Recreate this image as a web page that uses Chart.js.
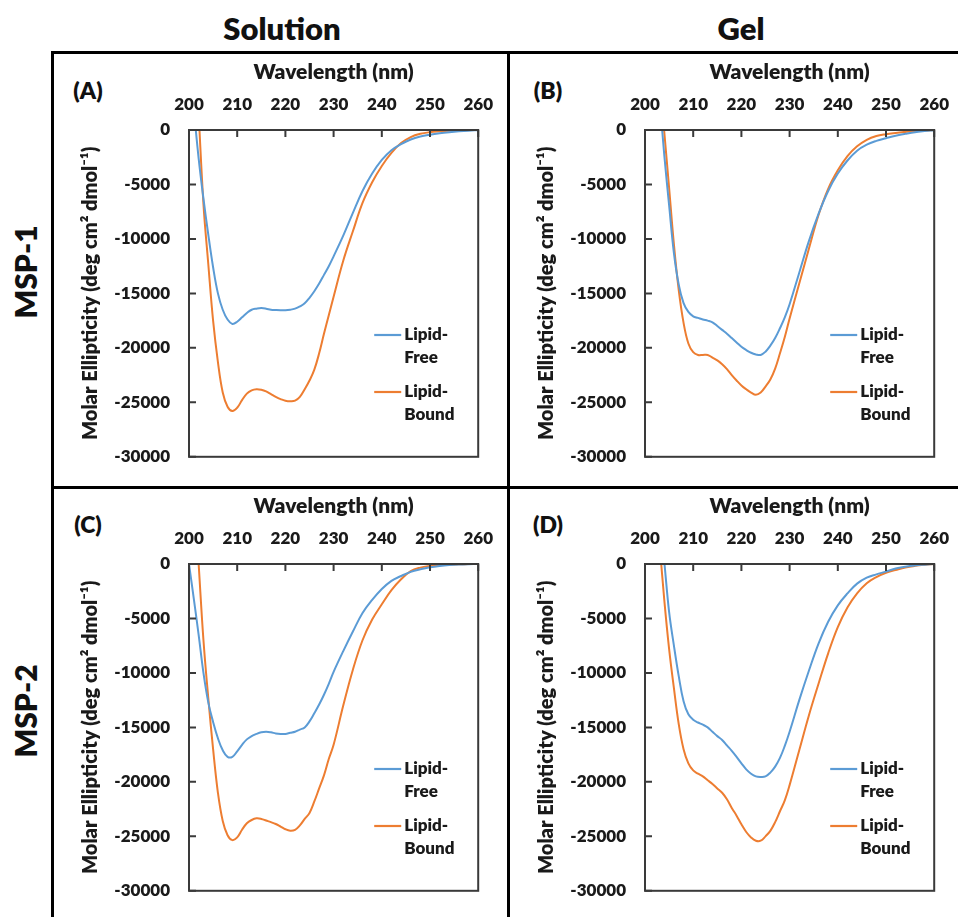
<!DOCTYPE html>
<html>
<head>
<meta charset="utf-8">
<script src="https://cdn.jsdelivr.net/npm/chart.js@4.4.1/dist/chart.umd.min.js"></script>
<style>
  body { margin: 0; background: #fff; font-family: Lato, sans-serif; }
  #page { position: relative; width: 958px; height: 917px; overflow: hidden; }
  .hline { position: absolute; left: 51px; width: 1000px; height: 3px; background: #000; }
  .vline { position: absolute; top: 51px; width: 3px; height: 1000px; background: #000; }
  .head { position: absolute; font-weight: 800; font-size: 31px; color: #111; transform: translate(-50%, -50%); white-space: nowrap; }
  .row { position: absolute; font-weight: 800; font-size: 30px; color: #111; transform: translate(-50%, -50%) rotate(-90deg); white-space: nowrap; }
  .tag { position: absolute; font-weight: 800; font-size: 23px; color: #111; transform: translate(-50%, -50%); }
  canvas { position: absolute; }
</style>
</head>
<body>
<div id="page">
  <div class="hline" style="top:51px"></div>
  <div class="hline" style="top:486px"></div>
  <div class="vline" style="left:51px"></div>
  <div class="vline" style="left:507px"></div>

  <div class="head" style="left:282px; top:28px">Solution</div>
  <div class="head" style="left:741px; top:28px">Gel</div>
  <div class="row" style="left:25px; top:272px">MSP-1</div>
  <div class="row" style="left:25px; top:711px">MSP-2</div>

  <div class="tag" style="left:88px; top:90px">(A)</div>
  <div class="tag" style="left:548px; top:90px">(B)</div>
  <div class="tag" style="left:88px; top:524px">(C)</div>
  <div class="tag" style="left:548px; top:524px">(D)</div>

  <canvas id="chartA" width="454" height="432" style="left:54px; top:54px"></canvas>
  <canvas id="chartB" width="454" height="432" style="left:510px; top:54px"></canvas>
  <canvas id="chartC" width="454" height="432" style="left:54px; top:488px"></canvas>
  <canvas id="chartD" width="454" height="432" style="left:510px; top:488px"></canvas>
</div>

<script>
// wavelengths in nm (1 nm steps to 230, then 2 nm)
const wavelengths = [200, 201, 202, 203, 204, 205, 206, 207, 208, 209, 210, 211, 212, 213, 214, 215,
  216, 217, 218, 219, 220, 221, 222, 223, 224, 225, 226, 227, 228, 229, 230,
  232, 234, 236, 238, 240, 242, 244, 246, 248, 250, 252, 254, 256, 258, 260];

const xTicks = [200, 210, 220, 230, 240, 250, 260];
const yTicks = [0, -5000, -10000, -15000, -20000, -25000, -30000];

// (A) MSP-1 solution
const solution1Free = [null, 1900, -2600, -6300, -9600, -12600, -15000, -16500, -17400, -17800, -17600, -17200,
  -16800, -16500, -16400, -16350, -16400, -16500, -16530, -16550, -16550, -16500, -16400, -16200, -15900,
  -15400, -14800, -14100, -13300, -12500, -11600,
  -9700, -7600, -5600, -4000, -2750, -1850, -1300, -870, -600, -430, -300, -200, -120, -60, -20];
const solution1Bound = [null, null, 1500, -6800, -12300, -17500, -21300, -24100, -25400, -25800, -25500, -24800,
  -24200, -23900, -23800, -23850, -24000, -24250, -24500, -24700, -24850, -24900, -24850, -24500, -23800,
  -23000, -22000, -20500, -18700, -17000, -15300,
  -12000, -9300, -6700, -4800, -3300, -2100, -1200, -650, -350, -200, -120, -60, -30, -10, 0];

// (B) MSP-1 gel
const gel1Free = [null, null, null, 3000, -2300, -6900, -11300, -14200, -15900, -16700, -17100, -17250,
  -17400, -17500, -17650, -18000, -18350, -18700, -19100, -19500, -19900, -20200, -20450, -20600, -20650,
  -20350, -19800, -19100, -18200, -17200, -16000,
  -13100, -10200, -7700, -5600, -4000, -2800, -1900, -1350, -1000, -750, -520, -350, -200, -100, -20];
const gel1Bound = [null, null, null, 5000, -200, -5300, -10500, -14700, -17700, -19600, -20400, -20650,
  -20650, -20650, -20900, -21150, -21500, -21950, -22500, -23000, -23450, -23800, -24100, -24300, -24100,
  -23550, -22900, -21900, -20500, -19000, -17300,
  -14100, -10900, -7800, -5400, -3700, -2400, -1500, -900, -550, -380, -270, -180, -100, -40, 0];

// (C) MSP-2 solution
const solution2Free = [0, -3200, -6500, -10000, -12700, -14500, -16000, -17100, -17700, -17700, -17200, -16600,
  -16100, -15800, -15600, -15450, -15400, -15450, -15550, -15600, -15600, -15500, -15400, -15200, -15000,
  -14450, -13700, -12900, -12000, -11000, -9900,
  -8000, -6200, -4500, -3300, -2300, -1550, -1100, -720, -480, -300, -180, -100, -50, -20, 0];
const solution2Bound = [null, 7000, 0, -7000, -12300, -17000, -21000, -23600, -24900, -25350, -25100, -24400,
  -23800, -23500, -23350, -23400, -23550, -23700, -23870, -24100, -24350, -24480, -24400, -24000, -23400,
  -22850, -21800, -20600, -19400, -17900, -16600,
  -13000, -9700, -7000, -5100, -3700, -2400, -1400, -650, -330, -180, -100, -50, -20, -10, 0];

// (D) MSP-2 gel
const gel2Free = [null, null, null, 4500, 200, -4400, -7500, -10300, -12600, -13800, -14300, -14550,
  -14750, -15000, -15400, -15800, -16150, -16650, -17150, -17700, -18300, -18850, -19250, -19500, -19550,
  -19500, -19150, -18600, -17800, -16700, -15400,
  -12500, -9800, -7300, -5300, -3800, -2700, -1800, -1250, -950, -700, -420, -250, -130, -60, 0];
const gel2Bound = [null, null, null, 2000, -3300, -7800, -11400, -14700, -17000, -18300, -18950, -19250,
  -19500, -19850, -20200, -20600, -21000, -21600, -22400, -23100, -23900, -24600, -25100, -25400, -25400,
  -25000, -24500, -23700, -22700, -21700, -20300,
  -17100, -13900, -11000, -8200, -5800, -4000, -2700, -1770, -1200, -800, -550, -320, -170, -70, 0];

const FREE_COLOR = '#5B9BD5';
const BOUND_COLOR = '#ED7D31';
const TEXT_COLOR = '#1a1a1a';
const FONT = 'Lato';
const WEIGHT = '800';

// box round the plot plus the inward tick marks
const plotFrame = {
  id: 'plotFrame',
  afterDatasetsDraw(chart) {
    const { ctx, chartArea: a, scales: { x, y } } = chart;
    ctx.save();
    ctx.strokeStyle = '#3a3a3a';
    ctx.lineWidth = 2;
    ctx.strokeRect(a.left, a.top, a.right - a.left, a.bottom - a.top);
    ctx.beginPath();
    x.ticks.forEach(t => {
      const px = x.getPixelForValue(t.value);
      ctx.moveTo(px, a.top);
      ctx.lineTo(px, a.top + 7);
    });
    y.ticks.forEach(t => {
      const py = y.getPixelForValue(t.value);
      ctx.moveTo(a.left, py);
      ctx.lineTo(a.left + 7, py);
    });
    ctx.stroke();
    ctx.restore();
  }
};

// legend inside the plot, label wrapped after the hyphen
const sideLegend = {
  id: 'sideLegend',
  afterDraw(chart) {
    const { ctx, chartArea: a } = chart;
    ctx.save();
    ctx.font = WEIGHT + ' 17px ' + FONT;
    ctx.textBaseline = 'middle';
    ctx.textAlign = 'left';
    chart.data.datasets.forEach((ds, i) => {
      const ly = a.top + 205 + i * 57;
      ctx.strokeStyle = ds.borderColor;
      ctx.lineWidth = 2.2;
      ctx.beginPath();
      ctx.moveTo(a.right - 104, ly);
      ctx.lineTo(a.right - 77, ly);
      ctx.stroke();
      ctx.fillStyle = TEXT_COLOR;
      const parts = ds.label.split('-');
      ctx.fillText(parts[0] + '-', a.right - 74, ly);
      ctx.fillText(parts[1], a.right - 74, ly + 23);
    });
    ctx.restore();
  }
};

function series(values) {
  return wavelengths.map((w, i) => ({ x: w, y: values[i] }));
}

function makeChart(id, freeValues, boundValues) {
  return new Chart(document.getElementById(id), {
    type: 'line',
    data: {
      datasets: [{
        label: 'Lipid-Free',
        data: series(freeValues),
        borderColor: FREE_COLOR,
        backgroundColor: FREE_COLOR,
        borderWidth: 2,
        pointRadius: 0,
        tension: 0.4,
        fill: false
      }, {
        label: 'Lipid-Bound',
        data: series(boundValues),
        borderColor: BOUND_COLOR,
        backgroundColor: BOUND_COLOR,
        borderWidth: 2,
        pointRadius: 0,
        tension: 0.4,
        fill: false
      }]
    },
    options: {
      responsive: false,
      animation: false,
      devicePixelRatio: 1,
      layout: { padding: { left: 0, top: 0, right: 23, bottom: 29 } },
      plugins: {
        legend: { display: false },
        tooltip: { enabled: false }
      },
      scales: {
        x: {
          type: 'linear',
          position: 'top',
          min: 200,
          max: 260,
          afterBuildTicks: scale => { scale.ticks = xTicks.map(v => ({ value: v })); },
          afterFit: scale => { scale.height = 76; },
          grid: { display: false, drawTicks: false },
          border: { display: false },
          ticks: {
            padding: 15,
            color: TEXT_COLOR,
            font: { family: FONT, size: 17, weight: WEIGHT },
            maxRotation: 0
          },
          title: {
            display: true,
            text: 'Wavelength (nm)',
            color: TEXT_COLOR,
            font: { family: FONT, size: 21, weight: WEIGHT },
            padding: { top: 6, bottom: 0 }
          }
        },
        y: {
          min: -30000,
          max: 0,
          afterBuildTicks: scale => { scale.ticks = yTicks.map(v => ({ value: v })); },
          afterFit: scale => { scale.width = 135; },
          grid: { display: false, drawTicks: false },
          border: { display: false },
          ticks: {
            padding: 19,
            color: TEXT_COLOR,
            font: { family: FONT, size: 17, weight: WEIGHT },
            callback: v => String(v)
          },
          title: {
            display: true,
            text: 'Molar Ellipticity (deg cm² dmol⁻¹)',
            color: TEXT_COLOR,
            font: { family: FONT, size: 20, weight: WEIGHT },
            padding: { top: 25, bottom: 0 }
          }
        }
      }
    },
    plugins: [plotFrame, sideLegend]
  });
}

makeChart('chartA', solution1Free, solution1Bound);
makeChart('chartB', gel1Free, gel1Bound);
makeChart('chartC', solution2Free, solution2Bound);
makeChart('chartD', gel2Free, gel2Bound);
</script>
</body>
</html>
